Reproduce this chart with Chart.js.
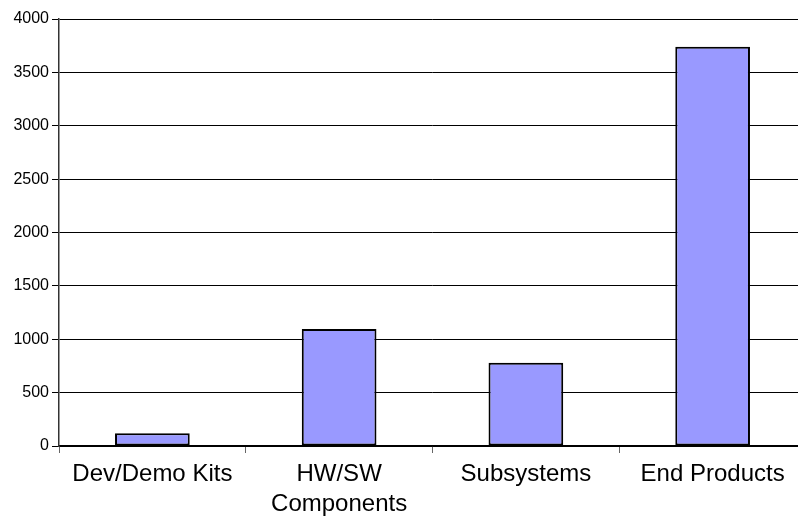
<!DOCTYPE html>
<html>
<head>
<meta charset="utf-8">
<script src="https://cdn.jsdelivr.net/npm/chart.js@4"></script>
<style>
  html, body { margin: 0; padding: 0; background: #fff; overflow: hidden; }
  #wrap { width: 808px; height: 518px; }
</style>
</head>
<body>
<div id="wrap"><canvas id="myChart"></canvas></div>
<script>
var categories = ["Dev/Demo Kits", ["HW/SW", "Components"], "Subsystems", "End Products"];
var values = [120, 1095, 780, 3740];
var yTicks = [0, 500, 1000, 1500, 2000, 2500, 3000, 3500, 4000];

const ctx = document.getElementById("myChart");
new Chart(ctx, {
  type: "bar",
  data: {
    labels: categories,
    datasets: [
      {
        data: values,
        backgroundColor: "#9999ff",
        borderColor: "#000000",
        borderWidth: 2,
        borderSkipped: false,
        categoryPercentage: 1,
        barPercentage: 0.4
      }
    ]
  },
  options: {
    responsive: true,
    maintainAspectRatio: false,
    animation: false,
    layout: { padding: { top: 19, right: 2, left: 0, bottom: 0 } },
    plugins: { legend: { display: false }, tooltip: { enabled: false } },
    scales: {
      x: {
        offset: true,
        grid: { offset: true, drawOnChartArea: false, tickLength: 7, color: "#666666" },
        border: { color: "#000000", width: 1.5 },
        ticks: {
          color: "#000000",
          padding: 6,
          maxRotation: 0,
          font: { family: "Liberation Sans", size: 24, lineHeight: 30 / 24 }
        },
        afterFit: function (scale) { scale.height = 72; }
      },
      y: {
        min: 0,
        max: 4000,
        afterBuildTicks: function (scale) {
          scale.ticks = yTicks.map(function (v) { return { value: v }; });
        },
        grid: { color: "#000000", lineWidth: 1, tickLength: 7 },
        border: { color: "#333333", width: 1.5 },
        ticks: {
          color: "#000000",
          padding: 3,
          font: { family: "Liberation Sans", size: 16 },
          callback: function (v) { return String(v); }
        },
        afterFit: function (scale) { scale.width = 59; }
      }
    }
  }
});
</script>
</body>
</html>
